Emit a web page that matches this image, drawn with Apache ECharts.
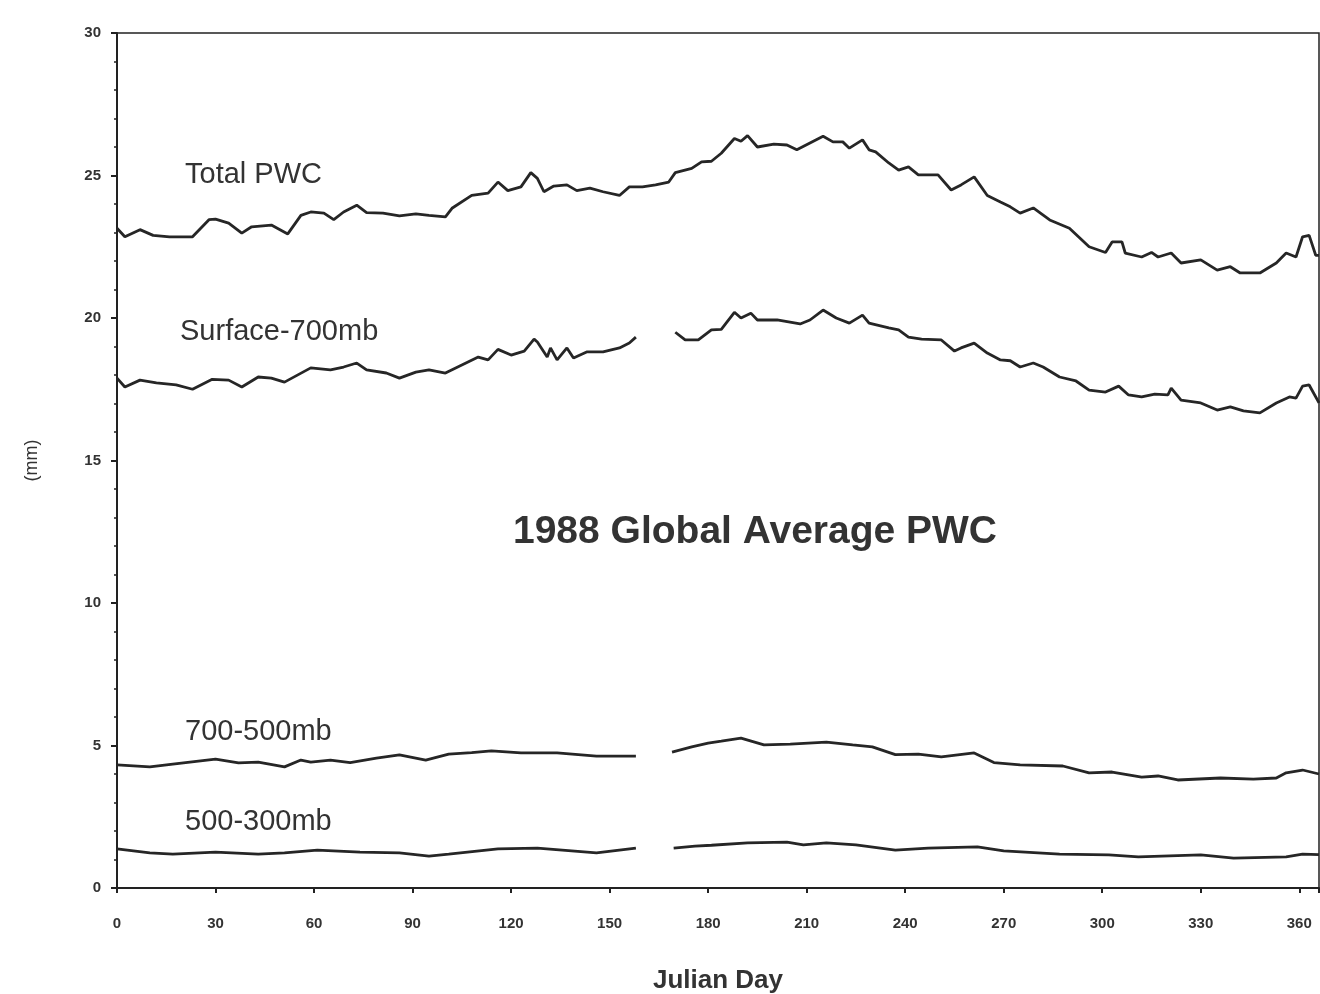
<!DOCTYPE html>
<html>
<head>
<meta charset="utf-8">
<script src="https://cdn.jsdelivr.net/npm/echarts@6/dist/echarts.min.js"></script>
<style>
  html, body { margin: 0; padding: 0; background: #fff; }
  #main { width: 1320px; height: 994px; }
</style>
</head>
<body>
<div id="main"></div>
<script>
// 读图得到的数据 (Julian day / mm)
var totalDays = [0, 2.4, 7, 11, 16, 23, 28, 30, 34, 38, 41, 47, 52, 56, 59, 63, 66, 69, 73, 76, 81, 86, 91, 95, 100, 102, 108, 113, 116, 119, 123, 126, 128, 130, 133, 137, 140, 144, 148, 153, 156, 160, 164, 168, 170, 175, 178, 181, 184, 188, 190, 192, 195, 200, 204, 207, 211, 215, 218, 221, 223, 227, 229, 231, 235, 238, 241, 244, 250, 254, 257, 261, 265, 269, 272, 275, 279, 284, 290, 296, 301, 303, 306, 307, 312, 315, 317, 321, 324, 330, 335, 339, 342, 348, 353, 356, 359, 361, 363, 365, 366];
var totalPwc = [23.15, 22.85, 23.1, 22.9, 22.85, 22.85, 23.45, 23.47, 23.33, 22.98, 23.2, 23.26, 22.95, 23.6, 23.72, 23.68, 23.45, 23.72, 23.96, 23.7, 23.68, 23.58, 23.65, 23.6, 23.55, 23.85, 24.3, 24.38, 24.77, 24.47, 24.6, 25.1, 24.9, 24.43, 24.63, 24.67, 24.47, 24.56, 24.43, 24.3, 24.6, 24.6, 24.67, 24.77, 25.1, 25.25, 25.48, 25.5, 25.78, 26.3, 26.2, 26.4, 26.0, 26.1, 26.07, 25.9, 26.14, 26.38, 26.18, 26.18, 25.96, 26.25, 25.9, 25.83, 25.44, 25.19, 25.3, 25.02, 25.02, 24.49, 24.67, 24.95, 24.3, 24.07, 23.9, 23.68, 23.86, 23.44, 23.15, 22.5, 22.3, 22.67, 22.67, 22.28, 22.14, 22.3, 22.14, 22.28, 21.93, 22.04, 21.68, 21.8, 21.58, 21.58, 21.93, 22.28, 22.14, 22.85, 22.9, 22.2, 22.2];

var sfcDays = [0, 2.4, 7, 12, 18, 23, 29, 34, 38, 43, 47, 51, 59, 65, 69, 73, 76, 82, 86, 91, 95, 100, 105, 110, 113, 116, 120, 124, 127, 128, 131, 132, 134, 137, 139, 143, 148, 153, 156, 158, 164, 170, 173, 177, 181, 184, 188, 190, 193, 195, 201, 208, 211, 215, 219, 223, 227, 229, 235, 238, 241, 245, 251, 255, 257, 261, 265, 269, 272, 275, 279, 282, 287, 292, 296, 301, 305, 308, 312, 316, 320, 321, 324, 330, 335, 339, 343, 348, 353, 357, 359, 361, 363, 366];
var sfc700 = [17.89, 17.58, 17.82, 17.72, 17.65, 17.5, 17.85, 17.82, 17.58, 17.93, 17.89, 17.75, 18.25, 18.18, 18.28, 18.42, 18.18, 18.07, 17.89, 18.1, 18.18, 18.07, 18.35, 18.63, 18.53, 18.9, 18.7, 18.84, 19.26, 19.16, 18.63, 18.95, 18.53, 18.95, 18.6, 18.81, 18.81, 18.95, 19.12, 19.33, null, 19.5, 19.23, 19.23, 19.58, 19.6, 20.2, 20.0, 20.17, 19.93, 19.93, 19.79, 19.93, 20.28, 20.0, 19.82, 20.1, 19.82, 19.65, 19.58, 19.33, 19.26, 19.23, 18.84, 18.95, 19.12, 18.77, 18.53, 18.5, 18.28, 18.42, 18.28, 17.93, 17.79, 17.47, 17.4, 17.61, 17.3, 17.23, 17.33, 17.3, 17.54, 17.12, 17.02, 16.77, 16.88, 16.74, 16.67, 17.02, 17.23, 17.19, 17.61, 17.65, 17.02];

var midDays = [0, 10, 17, 30, 37, 43, 51, 56, 59, 65, 71, 79, 86, 94, 101, 108, 114, 123, 134, 146, 158, 164, 169, 175, 180, 184, 190, 197, 205, 216, 224, 230, 237, 244, 251, 261, 267, 275, 288, 296, 303, 312, 317, 323, 336, 346, 353, 356, 361, 366];
var mb700500 = [4.32, 4.25, 4.35, 4.52, 4.39, 4.42, 4.25, 4.49, 4.42, 4.49, 4.4, 4.56, 4.67, 4.49, 4.7, 4.75, 4.81, 4.74, 4.74, 4.63, 4.63, null, 4.77, 4.95, 5.08, 5.15, 5.26, 5.02, 5.05, 5.12, 5.02, 4.95, 4.68, 4.7, 4.6, 4.74, 4.4, 4.32, 4.28, 4.04, 4.07, 3.89, 3.93, 3.79, 3.86, 3.82, 3.86, 4.04, 4.14, 4.0];

var upDays = [0, 10, 17, 30, 43, 51, 61, 74, 86, 95, 101, 116, 128, 146, 158, 164, 169.5, 176, 181, 192, 204, 209, 216, 225, 237, 247, 262, 270, 287, 302, 311, 330, 340, 356, 361, 366];
var mb500300 = [1.37, 1.23, 1.19, 1.26, 1.19, 1.23, 1.33, 1.26, 1.23, 1.12, 1.19, 1.37, 1.4, 1.23, 1.4, null, 1.4, 1.47, 1.5, 1.58, 1.61, 1.51, 1.58, 1.51, 1.33, 1.4, 1.44, 1.3, 1.19, 1.16, 1.09, 1.16, 1.05, 1.09, 1.19, 1.17];

var seriesNames = ['Total PWC', 'Surface-700mb', '700-500mb', '500-300mb'];

function zip(xs, ys) {
    return xs.map(function (d, i) { return [d, ys[i]]; });
}

var myChart = echarts.init(document.getElementById('main'));

var lineStyle = { color: '#262626', width: 2.8 };
function makeSeries(name, days, vals) {
    return {
        name: name,
        type: 'line',
        data: zip(days, vals),
        showSymbol: false,
        connectNulls: false,
        lineStyle: lineStyle,
        animation: false
    };
}

var labelFont = { fontFamily: 'Liberation Sans, Arial, sans-serif', fontSize: 29, fill: '#333' };

var option = {
    backgroundColor: '#fff',
    title: {
        text: '1988 Global Average PWC',
        left: 750,
        top: 508,
        textAlign: 'center',
        textStyle: { fontFamily: 'Liberation Sans, Arial, sans-serif', fontSize: 39, fontWeight: 'bold', color: '#333' }
    },
    grid: {
        left: 117, right: 1, top: 33, bottom: 106,
        outerBoundsMode: 'none',
        containLabel: false,
        show: true, borderColor: '#222', borderWidth: 1.5, backgroundColor: 'transparent'
    },
    xAxis: {
        type: 'value',
        min: 0, max: 366, interval: 30,
        name: 'Julian Day',
        nameLocation: 'middle',
        nameGap: 80,
        nameTextStyle: { fontFamily: 'Liberation Sans, Arial, sans-serif', fontSize: 26, fontWeight: 'bold', color: '#333' },
        axisLine: { lineStyle: { color: '#222', width: 2 } },
        axisTick: { show: true, length: 5, lineStyle: { color: '#222', width: 2 } },
        axisLabel: {
            margin: 28,
            fontFamily: 'Liberation Sans, Arial, sans-serif', fontSize: 15, fontWeight: 'bold', color: '#333',
            formatter: function (v) { return v % 30 === 0 ? String(v) : ''; }
        },
        splitLine: { show: false }
    },
    yAxis: {
        type: 'value',
        min: 0, max: 30, interval: 5,
        name: '(mm)',
        nameLocation: 'middle',
        nameRotate: 90,
        nameGap: 76,
        nameTextStyle: { fontFamily: 'Liberation Sans, Arial, sans-serif', fontSize: 18, color: '#333' },
        axisLine: { show: true, lineStyle: { color: '#222', width: 2 } },
        axisTick: { show: true, length: 6, lineStyle: { color: '#222', width: 2 } },
        minorTick: { show: true, splitNumber: 5, length: 3, lineStyle: { color: '#222', width: 1.5 } },
        axisLabel: {
            margin: 16,
            fontFamily: 'Liberation Sans, Arial, sans-serif', fontSize: 15, fontWeight: 'bold', color: '#333'
        },
        splitLine: { show: false }
    },
    graphic: [
        { type: 'text', left: 185, top: 160, style: Object.assign({ text: seriesNames[0] }, labelFont) },
        { type: 'text', left: 180, top: 317, style: Object.assign({ text: seriesNames[1] }, labelFont) },
        { type: 'text', left: 185, top: 717, style: Object.assign({ text: seriesNames[2] }, labelFont) },
        { type: 'text', left: 185, top: 807, style: Object.assign({ text: seriesNames[3] }, labelFont) }
    ],
    series: [
        makeSeries(seriesNames[0], totalDays, totalPwc),
        makeSeries(seriesNames[1], sfcDays, sfc700),
        makeSeries(seriesNames[2], midDays, mb700500),
        makeSeries(seriesNames[3], upDays, mb500300)
    ]
};

myChart.setOption(option);
</script>
</body>
</html>
